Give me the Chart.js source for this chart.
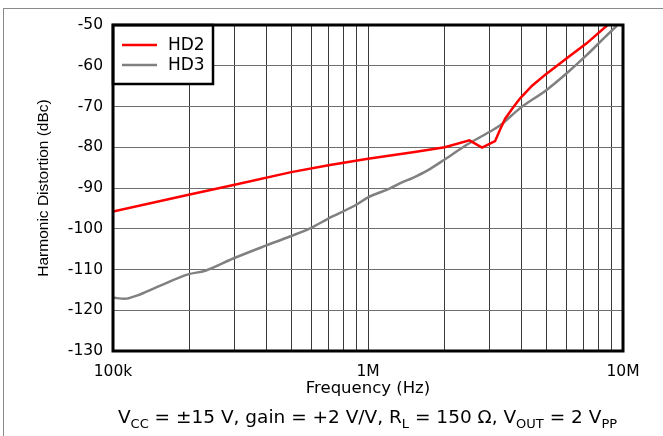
<!DOCTYPE html>
<html>
<head>
<meta charset="utf-8">
<script src="https://cdn.jsdelivr.net/npm/chart.js@4/dist/chart.umd.min.js"></script>
<style>
  html, body { margin: 0; padding: 0; background: #fff; }
  #wrap { position: relative; width: 663px; height: 436px; overflow: hidden; }
  #frame { position: absolute; left: 3px; top: 8px; width: 700px; height: 500px;
           border-top: 1.5px solid #8a8a8a; border-left: 1.5px solid #8a8a8a; }
  #chart { position: absolute; left: 0; top: 0; }
  #note { position: absolute; left: 36px; width: 663px; top: 406px; text-align: center;
          font-family: "DejaVu Sans", sans-serif; font-size: 18.5px; color: #000; white-space: nowrap; }
  #note sub { font-size: 13px; vertical-align: -5px; line-height: 0; }
</style>
</head>
<body>
<div id="wrap">
  <div id="frame"></div>
  <canvas id="chart" width="663" height="436"></canvas>
  <div id="note">V<sub>CC</sub> = ±15 V, gain = +2 V/V, R<sub>L</sub> = 150 Ω, V<sub>OUT</sub> = 2 V<sub>PP</sub></div>
</div>
<script>
// values (Hz, dBc)
const hd2Freq = [1e5, 2e5, 3e5, 5e5, 7e5, 1e6, 1.5e6, 2e6, 2.5e6, 2.8e6, 3.15e6, 3.3e6, 3.45e6, 3.7e6, 3.95e6, 4.4e6, 5e6, 6e6, 7.2e6, 8.7e6];
const hd2Vals = [-95.8, -91.6, -89.2, -86.1, -84.4, -82.8, -81.2, -80.0, -78.3, -80.1, -78.5, -75.6, -73.0, -70.3, -68.0, -64.9, -62.0, -58.2, -54.5, -50.0];

const hd3Freq = [1e5, 1.11e5, 1.24e5, 1.5e5, 1.97e5, 2.3e5, 2.96e5, 3.95e5, 4.94e5, 5.93e5, 6.99e5, 8.89e5, 1e6, 1.22e6, 1.34e6, 1.5e6, 1.7e6, 2e6, 2.44e6, 3e6, 3.3e6, 3.95e6, 5e6, 6e6, 7.2e6, 8.4e6, 9.45e6];
const hd3Vals = [-116.9, -117.2, -116.4, -114.2, -111.2, -110.3, -107.3, -104.2, -101.9, -99.9, -97.5, -94.3, -92.3, -90.1, -88.8, -87.5, -85.8, -83.0, -79.4, -76.2, -74.6, -70.4, -66.0, -61.9, -57.4, -53.3, -50.2];

const xGrid = [1e5, 2e5, 3e5, 4e5, 5e5, 6e5, 7e5, 8e5, 9e5, 1e6, 2e6, 3e6, 4e6, 5e6, 6e6, 7e6, 8e6, 9e6, 1e7];
const xLabelVals = [1e5, 1e6, 1e7];
const xLabels = ['100k', '1M', '10M'];

function pts(xs, ys) {
    return xs.map((x, i) => ({ x: x, y: ys[i] }));
}

// legend box inside the plot + heavy frame
const boxPlugin = {
    id: 'boxPlugin',
    afterDatasetsDraw(chart) {
        const ctx = chart.ctx;
        const a = chart.chartArea;
        ctx.save();
        ctx.fillStyle = '#fff';
        ctx.fillRect(a.left, a.top, 100, 59);
        ctx.strokeStyle = '#000';
        ctx.lineWidth = 2.5;
        ctx.strokeRect(a.left, a.top, 100, 59);
        chart.data.datasets.forEach((ds, i) => {
            const y = a.top + 20 + i * 20;
            ctx.strokeStyle = ds.borderColor;
            ctx.lineWidth = 2.5;
            ctx.beginPath();
            ctx.moveTo(a.left + 9, y);
            ctx.lineTo(a.left + 44, y);
            ctx.stroke();
            ctx.fillStyle = '#000';
            ctx.font = '17px "DejaVu Sans"';
            ctx.textBaseline = 'middle';
            ctx.fillText(ds.label, a.left + 55, y + 1);
        });
        ctx.lineWidth = 3;
        ctx.strokeStyle = '#000';
        ctx.strokeRect(a.left, a.top, a.right - a.left, a.bottom - a.top);
        ctx.restore();
    }
};

new Chart(document.getElementById('chart'), {
    type: 'line',
    data: {
        datasets: [
            { label: 'HD2', data: pts(hd2Freq, hd2Vals), borderColor: '#ff0000', borderWidth: 2.5, pointRadius: 0, tension: 0 },
            { label: 'HD3', data: pts(hd3Freq, hd3Vals), borderColor: '#808080', borderWidth: 2.5, pointRadius: 0, cubicInterpolationMode: 'monotone' }
        ]
    },
    options: {
        responsive: false,
        animation: false,
        layout: { padding: { top: 25, right: 40, left: 0, bottom: 0 } },
        plugins: { legend: { display: false }, tooltip: { enabled: false } },
        scales: {
            x: {
                type: 'logarithmic',
                min: 1e5,
                max: 1e7,
                afterFit(s) { s.height = 85; },
                afterBuildTicks(s) { s.ticks = xGrid.map(v => ({ value: v })); },
                ticks: {
                    autoSkip: false,
                    maxRotation: 0,
                    padding: 12,
                    color: '#000',
                    font: { family: 'DejaVu Sans', size: 15.5 },
                    callback(v) {
                        const i = xLabelVals.indexOf(v);
                        return i >= 0 ? xLabels[i] : '';
                    }
                },
                grid: { color: '#3a3a3a', lineWidth: 1, drawTicks: false },
                border: { display: false },
                title: { display: true, text: 'Frequency (Hz)', color: '#000',
                         font: { family: 'DejaVu Sans', size: 16.5 }, padding: { top: 0, bottom: 37 } }
            },
            y: {
                min: -130,
                max: -50,
                afterFit(s) { s.width = 113; },
                ticks: { stepSize: 10, padding: 10, color: '#000', font: { family: 'DejaVu Sans', size: 15.5 } },
                grid: { color: '#6e6e6e', lineWidth: 1, drawTicks: false },
                border: { display: false },
                title: { display: true, text: 'Harmonic Distortion (dBc)', color: '#000',
                         font: { family: 'Liberation Sans', size: 15.5 }, padding: { top: 34, bottom: 0 } }
            }
        }
    },
    plugins: [boxPlugin]
});
</script>
</body>
</html>
